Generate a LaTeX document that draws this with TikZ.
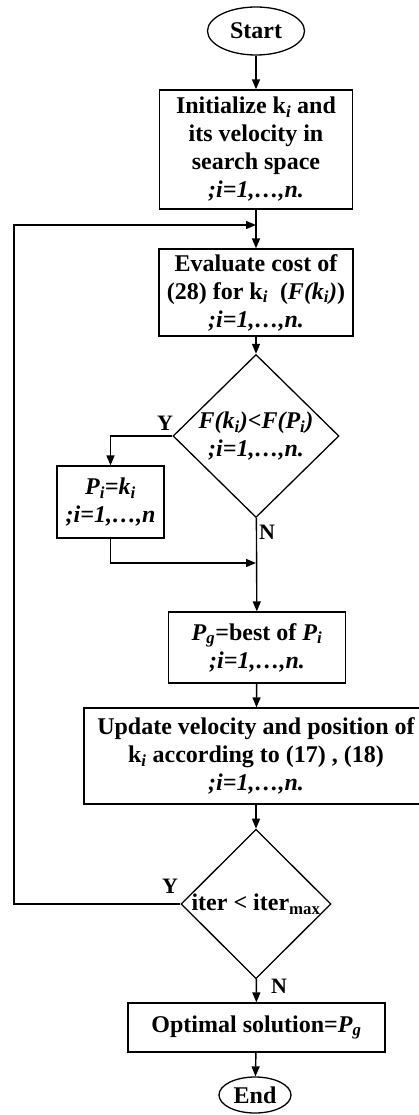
\documentclass[tikz,border=0pt]{standalone}
\usepackage{fontspec}
\setmainfont{Liberation Serif}
\usetikzlibrary{arrows.meta, shapes.geometric, positioning}

\newcommand{\irange}{\textit{;i=1,\ldots,n.}}

\begin{document}
\begin{tikzpicture}[x=1pt, y=-1pt, >={Triangle[length=10pt,width=8pt]},
		every node/.style={font=\fontsize{24}{28}\selectfont\bfseries, inner sep=0pt, align=center},
		terminal/.style={draw, ellipse, line width=1.3pt},
		process/.style={draw, rectangle, line width=1.3pt},
		decision/.style={draw, diamond, line width=1.3pt},
		flow/.style={->, line width=1.4pt},
		branch/.style={font=\fontsize{22}{24}\selectfont\bfseries}]
		
		\useasboundingbox (0,0) rectangle (418,1115);
		
		% 1. start and initialization
		\node[terminal, minimum width=97pt, minimum height=48pt] (start) at (256,31) {Start};
		\node[process, minimum width=193pt, minimum height=119pt] (init) at (256,149.5)
		{Initialize k\textsubscript{\textit{i}} and\\its velocity in\\search space\\\irange};
		
		% 2. cost evaluation and personal best test
		\node[process, minimum width=194pt, minimum height=87pt] (eval) at (256,292.5)
		{Evaluate cost of\\(28) for k\textsubscript{\textit{i}}\ \ (\textit{F(k\textsubscript{i})})\\\irange};
		\node[decision, minimum width=166pt, minimum height=162pt] (cmp1) at (256,436)
		{\textit{F(k\textsubscript{i})<F(P\textsubscript{i})}\\\irange};
		\node[process, minimum width=107pt, minimum height=72pt] (pbest) at (110.5,502)
		{\textit{P\textsubscript{i}=k\textsubscript{i}}\\\textit{;i=1,\ldots,n}};
		
		% 3. global best and update
		\node[process, minimum width=177pt, minimum height=71pt] (gbest) at (257,647.5)
		{\textit{P}\textsubscript{\textit{g}}=best of \textit{P}\textsubscript{\textit{i}}\\\irange};
		\node[process, minimum width=344pt, minimum height=96pt] (update) at (256,756)
		{Update velocity and position of\\k\textsubscript{\textit{i}} according to (17) , (18)\\\irange};
		
		% 4. stop test and end
		\node[decision, minimum width=150pt, minimum height=148pt] (cmp2) at (256,904)
		{iter < iter\textsubscript{max}};
		\node[process, minimum width=257pt, minimum height=49pt] (opt) at (256.5,1027.5)
		{Optimal solution=\textit{P}\textsubscript{\textit{g}}};
		\node[terminal, minimum width=72pt, minimum height=36pt] (end) at (255,1095) {End};
		
		% 5. helper points of the connectors
		\coordinate (loopin) at (256,225);   % loop enters here
		\coordinate (loopx) at (14,225);     % left turn of the loop
		\coordinate (merge) at (256,563);    % branch joins main line
		
		% 6. main flow
		\draw[flow] (start) -- (init);
		\draw[flow] (init) -- (eval);
		\draw[flow] (eval) -- (cmp1);
		\draw[flow] (cmp1) -- (gbest);
		\draw[flow] (gbest) -- (update);
		\draw[flow] (update) -- (cmp2);
		\draw[flow] (cmp2) -- (opt);
		\draw[flow] (opt) -- (end);
		
		% 7. branches
		\draw[flow] (cmp1.west) -| (pbest.north);
		\draw[flow] (pbest.south) |- (merge);
		\draw[flow] (cmp2.west) -| (loopx) -- (loopin);
		
		% 8. branch labels
		\node[branch] (ylab1) at (165,423) {Y};
		\node[branch] (nlab1) at (267,532) {N};
		\node[branch] (ylab2) at (170,886) {Y};
		\node[branch] (nlab2) at (279,986) {N};
		
	\end{tikzpicture}
\end{document}
